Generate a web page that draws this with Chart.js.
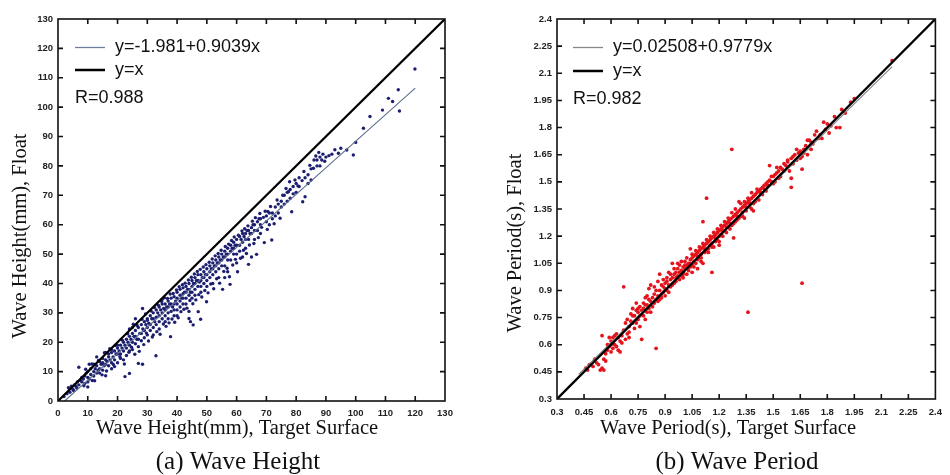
<!DOCTYPE html>
<html lang="en">
<head>
<meta charset="UTF-8">
<title>Wave Height and Wave Period: Float vs Target Surface</title>
<script src="https://cdn.jsdelivr.net/npm/chart.js"></script>
<style>
  body { margin: 0; background: #fff; }
  .wrap { position: relative; width: 950px; height: 475px; }
  canvas { position: absolute; top: 0; }
  #heightChart { left: 0; }
  #periodChart { left: 475px; }
</style>
</head>
<body>
<div class="wrap">
  <canvas id="heightChart" width="475" height="475"></canvas>
  <canvas id="periodChart" width="475" height="475"></canvas>
</div>
<script>
// ---- data ----
// (a) wave height, mm: [target surface, float]
const heightPoints = [
  [2,1.5],[3,2.5],[3.5,4.5],[4,3],[4.5,5],[5,4],[5.5,5.5],[6,5],[6.5,6.5],[7,11.5],[7,5.5],[7.5,7],[8,6.5],[8,8],[8.5,7.5],[9,6],[9,8.5],[9.5,9.5],[10,4.8],[10,6.5],[10,8],[10,10],[10.5,7.5],[10.5,12.5],
  [11,9],[11,11],[11.5,7],[12,10],[12,12.5],[12,8.5],[12.5,11],[13,9.5],[13,12],[13,15],[13.5,10.5],[14,13.4],[14,11],[14,9.5],[14.5,12.5],[15,13],[15,10.5],[15,14.5],[15.5,12],[16,8.6],[16,12.5],[16,14],[16,16.5],[16.5,13.5],[17,15],[17,12],[17,16],[17.5,14],[18,13],[18,16.5],[18,11],[18,17.5],[18.5,15],[19,17],[19,14],[19,11.7],[19.5,16],[20,18],[20,16],[20,13],[20,19],[20.5,17],
  [21,19],[21,16],[21,14.5],[21.5,18],[22,20],[22,17],[22,14],[22.5,8.3],[22.5,19],[23,21],[23,18],[23,15.5],[23.5,20],[24,22],[24,19],[24,9.4],[24,24.5],[24,17],[24.5,21],[25,23],[25,20],[25,17.5],[25,25],[25.5,22],[26,22],[26,19.5],[26,24],[26,28],[26.5,21],[27,25],[27,21],[27,12.8],[27,18.5],[27.5,23],[28,26],[28,23],[28,20.5],[28.4,12.5],[28.5,24.5],[28.4,31.5],[29,27],[29,24],[29,21.5],[29.5,26],[30,28],[30,25],[30,22.5],[30,27.5],[30.5,26.5],
  [31,29],[31,26],[31,24],[31.5,28],[32,30],[32,28],[32,25],[32,22.5],[32.5,27],[32.9,15.4],[33,31],[33,28.5],[33,26],[33.5,30],[34,32],[34,29],[34,27],[34,24.5],[34.5,31],[35,33],[35,30],[35,28],[35,34.5],[35.5,31.5],[36,33],[36,31],[36,29],[36,27],[36.5,32],[37,34],[37,32],[37,30],[37,28],[37.5,33],[37.8,21.9],[38,35],[38,33],[38,30.5],[38.5,32],[39,35.5],[39,33],[39,31],[39,29],[39.5,34],[40,37],[40,35],[40,33],[40,31],[40,29],
  [41,38],[41,36],[41,34],[41,32],[41.5,35],[42,38.5],[42,36.5],[42,35],[42,33],[42.5,37],[43,39],[43,37],[43,35],[43,33],[43.5,38],[44,28.1],[44,40],[44,38],[44,36],[44,30.5],[44.5,27],[44.5,37],[45,41],[45,39],[45,37],[45,35],[45.4,25.9],[45.5,40],[46,42],[46,40],[46,38],[46,36],[46.5,41],[47,43],[47,41],[47,39],[47.1,30.4],[47.5,40.5],[47.9,27.8],[48,43],[48,41],[48,39],[48,37],[48.5,42],[49,44],[49,42],[49,40],[49.5,43],[49.9,33.8],[50,45],[50,43],[50,41],[50,39],
  [51,46],[51,44],[51,42],[51.5,45],[52,47],[52,45],[52,43],[52,40],[52.5,46],[53,48],[53,46],[53,44],[53.5,47],[54,49],[54,47],[54,45],[54,42],[54.5,48],[55,50],[55,48],[55,46],[55.3,38],[55.5,49],[56,51],[56,49],[56,46],[56,42],[56.5,50],[57,52],[57,50],[57,48],[57,44],[57.8,39.7],[58,53],[58,51],[58,48],[58.5,52],[59,54],[59,52],[59,50],[59.5,53],[60,55],[60,53],[60,50],[60.3,44],[60,47],
  [61,56],[61,53],[61,51],[61.5,55],[62,57],[62,54],[62,49],[62.5,56],[63,57],[63,55],[63,52],[63.5,58],[64,58],[64,55],[64,46.5],[64.5,57],[65,59],[65,57],[65,49],[65.5,60],[66,60],[66,58],[66,55],[66.7,49.9],[67,61],[67,58],[67.5,62],[68,62],[68,60],[68,57],[69,62.5],[69.3,53.9],[70,63],[70,61],[70.5,64.5],[71,64],[71,60],[71.8,54.8],[72,64],[72,62],
  [73,66],[73,63],[74,67],[74,64],[75,68],[75,66],[75.5,70],[76,70],[76,67],[77,71],[77,68],[77.4,71.2],[78,72],[78,69],[78.5,64.4],[79,73],[79,70.5],[80,74],[80,71],[81,73],[81,76],[82,75],[82.2,67.8],[83,76],[83,69.5],[84,77],[84,74],[85,79],[85,75.2],[85.8,79.2],[86,82],[87,82],[87,80],[88,83],[88,80],[88.6,82],[89,84],[90,83],
  [91,83.5],[92,84],[93,85.5],[94.2,84.3],[95,86],[97,85.4],[99.2,83.7],[100,88],[102.6,92.8],[104.8,96.8],[109,99],[111,103],[112.4,101.9],[114.3,105.9],[114.7,98.7],[119.9,113],
  [5.2,3.6],[6.3,4.4],[8.7,5.2],[9.3,10.8],[11.4,12.6],[12.3,6.9],[13.6,13.8],[14.8,8.9],[15.6,16.4],[16.3,10.2],[17.4,17.8],[18.6,12.4],[19.3,18.9],[20.8,15.1],[21.6,20.7],[22.3,12.6],[23.4,22.9],[23.8,16.6],[24.7,18.3],[25.3,26.1],[25.8,15.9],[26.6,25.7],[27.3,16.9],[28.2,27.8],[28.8,19.2],[29.4,29.6],[29.7,23.1],[30.4,20.4],
  [31.3,30.6],[31.7,21.8],[32.4,31.8],[33.2,23.6],[33.7,32.6],[34.3,22.7],[34.8,33.9],[35.4,26.2],[35.8,35.1],[36.3,25.4],[36.8,34.9],[37.3,26.6],[37.7,36.4],[38.3,27.9],[38.7,36.6],[39.2,26.8],[39.8,37.8],[40.4,28.3],[40.7,38.9],[41.3,30.4],[41.8,39.6],[42.3,31.2],[42.7,40.1],[43.3,31.6],[43.8,41.2],[44.3,34.2],[44.8,42.1],[45.3,33.1],[45.8,43.2],[46.3,34.4],
  [46.8,44.1],[47.3,36.2],[47.8,44.8],[48.3,35.4],[48.8,45.6],[49.3,37.6],[49.7,46.4],[50.4,36.8],[50.8,47.2],[51.3,39.8],[51.8,48.3],[52.3,38.2],[52.8,49.4],[53.3,41.6],[53.8,50.2],[54.3,40.1],[54.8,51.3],[55.7,44.1],[56.2,52.6],[56.8,45.2],[57.3,53.4],[57.6,42.3],[58.3,54.6],[58.7,46.3],[59.2,55.8],[59.6,48.2],[60.6,56.4],[61.3,48.6],[61.8,57.9],[62.3,51.3],
  [62.7,58.6],[63.3,50.2],[63.8,59.6],[64.3,53.1],[65.3,61.2],[65.8,53.6],[66.3,62.4],[67.3,55.6],[67.8,63.8],[68.4,59.1],[69.6,64.6],[70.3,58.4],[71.4,66.2],[72.6,60.3],[73.6,68.4],[74.6,62.2],[76.6,72.3],[77.8,74.6],[79.6,75.2],[80.6,73.2],[82.6,78.1],[84.6,80.2],[86.6,83.4],[87.6,84.6],[89.6,81.6]
];
const heightFit = [[2.2,0],[120,106.5]];       // y=-1.981+0.9039x
const heightIdentity = [[0,0],[130,130]];      // y=x
const heightTicks = [0,10,20,30,40,50,60,70,80,90,100,110,120,130];
const heightTickLabels = ['0','10','20','30','40','50','60','70','80','90','100','110','120','130'];

// (b) wave period, s: [target surface, float]
const periodPoints = [
  [0.46,0.47],[0.48,0.49],[0.5,0.48],[0.52,0.5],[0.53,0.49],[0.54,0.46],[0.55,0.47],[0.56,0.46],[0.55,0.65],[0.56,0.52],[0.57,0.55],[0.58,0.6],[0.58,0.57],[0.59,0.59],[0.6,0.62],[0.6,0.56],[0.6,0.6],
  [0.61,0.64],[0.62,0.65],[0.62,0.6],[0.63,0.59],[0.64,0.64],[0.64,0.57],[0.65,0.56],[0.65,0.62],[0.66,0.65],[0.67,0.92],[0.67,0.68],[0.68,0.72],[0.68,0.63],[0.69,0.66],[0.7,0.7],[0.7,0.67],[0.71,0.77],[0.71,0.73],[0.72,0.8],[0.72,0.72],[0.73,0.69],[0.73,0.76],[0.74,0.79],[0.74,0.72],[0.75,0.78],[0.75,0.74],[0.75,0.8],
  [0.76,0.81],[0.76,0.7],[0.77,0.63],[0.77,0.79],[0.78,0.76],[0.78,0.83],[0.79,0.74],[0.79,0.86],[0.8,0.82],[0.8,0.78],[0.8,0.87],[0.81,0.8],[0.81,0.91],[0.82,0.84],[0.82,0.93],[0.83,0.86],[0.83,0.81],[0.84,0.88],[0.85,0.58],[0.85,0.85],[0.85,0.9],[0.86,0.87],[0.86,0.84],[0.87,0.99],[0.87,0.9],[0.88,0.88],[0.88,0.86],[0.89,0.92],[0.89,0.89],[0.9,0.94],[0.9,0.91],[0.9,0.87],
  [0.91,0.95],[0.91,0.9],[0.92,1.0],[0.92,0.93],[0.93,0.96],[0.93,0.92],[0.94,1.05],[0.94,0.97],[0.95,0.99],[0.95,0.94],[0.96,1.0],[0.96,0.97],[0.97,1.02],[0.97,0.98],[0.98,1.04],[0.98,0.96],[0.99,1.01],[0.99,0.98],[1.0,1.03],[1.0,1.0],[1.0,0.97],[1.01,1.06],[1.01,1.02],[1.02,1.04],[1.02,0.99],[1.03,1.05],[1.03,1.01],[1.04,1.07],[1.04,1.13],[1.04,1.03],[1.05,1.08],[1.05,1.04],[1.05,1.0],
  [1.06,1.09],[1.06,1.06],[1.07,1.1],[1.07,1.05],[1.08,1.11],[1.08,1.07],[1.08,1.02],[1.09,1.12],[1.09,1.08],[1.1,1.13],[1.1,1.1],[1.1,1.06],[1.11,1.28],[1.11,1.14],[1.11,1.05],[1.12,1.15],[1.12,1.11],[1.13,1.41],[1.13,1.16],[1.13,1.12],[1.14,1.17],[1.14,1.13],[1.15,1.18],[1.15,1.15],[1.16,1.0],[1.16,1.19],[1.16,1.16],[1.17,1.2],[1.17,1.14],[1.18,1.21],[1.18,1.17],[1.19,1.22],[1.19,1.18],[1.2,1.23],[1.2,1.2],[1.2,1.17],
  [1.21,1.24],[1.21,1.21],[1.22,1.25],[1.22,1.2],[1.23,1.26],[1.23,1.23],[1.24,1.27],[1.24,1.22],[1.25,1.28],[1.25,1.25],[1.26,1.29],[1.26,1.24],[1.27,1.68],[1.27,1.3],[1.27,1.26],[1.28,1.19],[1.28,1.31],[1.29,1.32],[1.29,1.28],[1.3,1.33],[1.3,1.29],[1.31,1.39],[1.31,1.34],[1.32,1.35],[1.32,1.31],[1.33,1.36],[1.33,1.33],[1.34,1.37],[1.34,1.3],[1.35,1.38],[1.35,1.34],[1.36,0.78],[1.36,1.39],[1.37,1.4],[1.37,1.36],[1.38,1.41],[1.38,1.35],[1.39,1.34],[1.39,1.42],[1.4,1.43],[1.4,1.39],
  [1.41,1.44],[1.42,1.45],[1.42,1.4],[1.43,1.46],[1.44,1.47],[1.44,1.43],[1.45,1.48],[1.46,1.49],[1.46,1.45],[1.47,1.5],[1.48,1.51],[1.48,1.59],[1.49,1.5],[1.5,1.53],[1.5,1.49],[1.51,1.54],[1.52,1.55],[1.53,1.56],[1.53,1.52],[1.54,1.58],[1.55,1.57],[1.56,1.6],[1.57,1.59],[1.58,1.61],[1.59,1.56],[1.6,1.47],[1.6,1.52],[1.6,1.63],
  [1.61,1.64],[1.62,1.65],[1.63,1.62],[1.64,1.66],[1.65,1.67],[1.66,0.94],[1.66,1.57],[1.66,1.64],[1.67,1.68],[1.68,1.7],[1.69,1.65],[1.7,1.73],[1.71,1.72],[1.72,1.71],[1.73,1.76],[1.75,1.74],[1.76,1.76],[1.78,1.83],[1.79,1.79],[1.81,1.77],[1.82,1.81],[1.85,1.8],[1.87,1.8],[1.9,1.88],[1.93,1.94],[1.95,1.96],[2.16,2.17],
  [0.47,0.46],[0.51,0.52],[0.57,0.51],[0.59,0.64],[0.61,0.58],[0.63,0.66],[0.66,0.61],[0.69,0.74],[0.7,0.64],[0.72,0.76],[0.74,0.83],[0.76,0.76],[0.78,0.8],[0.79,0.82],[0.81,0.85],[0.82,0.78],[0.84,0.92],[0.84,0.83],[0.86,0.95],[0.87,0.85],[0.88,0.93],[0.89,0.96],[0.91,0.97],[0.92,0.89],[0.93,0.99],[0.94,0.93],[0.95,1.02],[0.96,0.95],[0.97,1.05],[0.98,1.0],
  [0.99,1.06],[1.0,0.99],[1.01,1.04],[1.02,1.08],[1.03,1.03],[1.04,1.05],[1.05,1.1],[1.06,1.03],[1.07,1.12],[1.08,1.09],[1.09,1.14],[1.1,1.08],[1.11,1.16],[1.12,1.13],[1.13,1.18],[1.14,1.11],[1.15,1.2],[1.16,1.14],[1.17,1.22],[1.18,1.19],[1.19,1.24],[1.2,1.15],[1.21,1.26],[1.22,1.23],[1.23,1.28],[1.24,1.25],[1.25,1.3],[1.26,1.27],[1.27,1.33],[1.28,1.27],
  [1.29,1.35],[1.3,1.31],[1.31,1.3],[1.32,1.38],[1.33,1.31],[1.34,1.39],[1.35,1.36],[1.36,1.41],[1.37,1.38],[1.38,1.44],[1.39,1.38],[1.41,1.46],[1.43,1.44],[1.45,1.46],[1.47,1.48],[1.49,1.53],[1.51,1.5],[1.52,1.58],[1.54,1.53],[1.56,1.56],[1.58,1.62],[1.61,1.6],[1.63,1.68],[1.65,1.63],[1.67,1.66],[1.69,1.73],[1.71,1.68],[1.74,1.78],[1.77,1.74],[1.8,1.82],[1.84,1.86],[1.88,1.9]
];
const periodFit = [[0.42,0.436],[2.16,2.137]];  // y=0.02508+0.9779x
const periodIdentity = [[0.3,0.3],[2.4,2.4]];   // y=x
const periodTicks = [0.3,0.45,0.6,0.75,0.9,1.05,1.2,1.35,1.5,1.65,1.8,1.95,2.1,2.25,2.4];
const periodTickLabels = ['0.3','0.45','0.6','0.75','0.9','1.05','1.2','1.35','1.5','1.65','1.8','1.95','2.1','2.25','2.4'];

const toXY = pairs => pairs.map(p => ({ x: p[0], y: p[1] }));

// frame with inward ticks, legend, axis titles and caption
const framePlugin = {
  id: 'frame',
  afterDraw(chart, args, o) {
    const { ctx, chartArea: a } = chart;
    const xs = chart.scales.x, ys = chart.scales.y;
    ctx.save();
    ctx.strokeStyle = '#111';
    ctx.lineWidth = 1.6;
    ctx.strokeRect(a.left, a.top, a.right - a.left, a.bottom - a.top);
    ctx.beginPath();
    xs.ticks.forEach(t => {
      const p = xs.getPixelForValue(t.value);
      if (p <= a.left + 1 || p >= a.right - 1) return;
      ctx.moveTo(p, a.bottom); ctx.lineTo(p, a.bottom - 5);
      ctx.moveTo(p, a.top); ctx.lineTo(p, a.top + 5);
    });
    ys.ticks.forEach(t => {
      const p = ys.getPixelForValue(t.value);
      if (p <= a.top + 1 || p >= a.bottom - 1) return;
      ctx.moveTo(a.left, p); ctx.lineTo(a.left + 5, p);
      ctx.moveTo(a.right, p); ctx.lineTo(a.right - 5, p);
    });
    ctx.stroke();

    // legend block
    const lx = a.left + o.legendX;
    ctx.fillStyle = '#111';
    ctx.textBaseline = 'middle';
    ctx.font = '18px "Liberation Sans", Arial, sans-serif';
    o.legend.forEach((item, i) => {
      const ly = o.legendRows[i];
      if (item.color) {
        ctx.strokeStyle = item.color;
        ctx.lineWidth = item.width;
        ctx.beginPath(); ctx.moveTo(lx, ly); ctx.lineTo(lx + 30, ly); ctx.stroke();
        ctx.fillText(item.text, lx + 40, ly);
      } else {
        ctx.fillText(item.text, lx, ly);
      }
    });

    // axis titles + caption
    ctx.textAlign = 'center';
    ctx.font = '20.5px "Liberation Serif", "Times New Roman", serif';
    ctx.fillText(o.xTitle, o.xTitleAt[0], o.xTitleAt[1]);
    ctx.save();
    ctx.translate(o.yTitleAt[0], o.yTitleAt[1]);
    ctx.rotate(-Math.PI / 2);
    ctx.fillText(o.yTitle, 0, 0);
    ctx.restore();
    ctx.font = '25px "Liberation Serif", "Times New Roman", serif';
    ctx.fillText(o.caption, o.captionAt[0], o.captionAt[1]);
    ctx.restore();
  }
};

const tickFont = { family: '"Liberation Sans", Arial, sans-serif', size: 9.5, weight: 'bold' };

function makeChart(id, cfg) {
  const setTicks = s => { s.ticks = cfg.ticks.map(v => ({ value: v })); };
  const label = (v, i) => cfg.tickLabels[i];
  const lo = cfg.ticks[0], hi = cfg.ticks[cfg.ticks.length - 1];
  return new Chart(document.getElementById(id), {
    type: 'scatter',
    data: {
      datasets: [
        { type: 'line', data: toXY(cfg.identity), borderColor: '#000', borderWidth: 2.3, pointRadius: 0, order: 0 },
        { type: 'line', data: toXY(cfg.fit), borderColor: cfg.fitColor, borderWidth: 1.1, pointRadius: 0, order: 0 },
        { data: toXY(cfg.points), backgroundColor: cfg.dotColor, borderWidth: 0, pointRadius: cfg.dotSize, order: 1 }
      ]
    },
    options: {
      responsive: false,
      animation: false,
      layout: { padding: { top: 19, right: cfg.padRight, left: 0, bottom: 0 } },
      scales: {
        x: {
          type: 'linear', min: lo, max: hi,
          afterBuildTicks: setTicks,
          ticks: { callback: label, font: tickFont, color: '#222', padding: cfg.xPad, maxRotation: 0, autoSkip: false },
          grid: { display: false, drawTicks: false },
          border: { display: false },
          afterFit: s => { s.height = cfg.xHeight; }
        },
        y: {
          type: 'linear', min: lo, max: hi,
          afterBuildTicks: setTicks,
          ticks: { callback: label, font: tickFont, color: '#222', padding: 5, autoSkip: false },
          grid: { display: false, drawTicks: false },
          border: { display: false },
          afterFit: s => { s.width = cfg.yWidth; }
        }
      },
      plugins: {
        legend: { display: false },
        tooltip: { enabled: false },
        frame: cfg.frame
      }
    },
    plugins: [framePlugin]
  });
}

makeChart('heightChart', {
  points: heightPoints, fit: heightFit, identity: heightIdentity,
  ticks: heightTicks, tickLabels: heightTickLabels,
  dotColor: '#1c1f70', dotSize: 1.7, fitColor: '#5f6f8f',
  padRight: 30, yWidth: 58, xHeight: 74, xPad: 7,
  frame: {
    legendX: 17, legendRows: [47.5, 70, 98.5],
    legend: [
      { text: 'y=-1.981+0.9039x', color: '#6f7f99', width: 1.3 },
      { text: 'y=x', color: '#000', width: 2.5 },
      { text: 'R=0.988' }
    ],
    xTitle: 'Wave Height(mm), Target Surface', xTitleAt: [237, 429],
    yTitle: 'Wave Height(mm), Float', yTitleAt: [21, 236],
    caption: '(a) Wave Height', captionAt: [238, 462]
  }
});

makeChart('periodChart', {
  points: periodPoints, fit: periodFit, identity: periodIdentity,
  ticks: periodTicks, tickLabels: periodTickLabels,
  dotColor: '#e4141c', dotSize: 1.9, fitColor: '#808080',
  padRight: 8, yWidth: 82, xHeight: 76, xPad: 8,
  frame: {
    legendX: 16, legendRows: [47.5, 71, 99.5],
    legend: [
      { text: 'y=0.02508+0.9779x', color: '#888', width: 1.3 },
      { text: 'y=x', color: '#000', width: 2.5 },
      { text: 'R=0.982' }
    ],
    xTitle: 'Wave Period(s), Target Surface', xTitleAt: [253, 429],
    yTitle: 'Wave Period(s), Float', yTitleAt: [41, 243],
    caption: '(b) Wave Period', captionAt: [262, 462]
  }
});
</script>
</body>
</html>
